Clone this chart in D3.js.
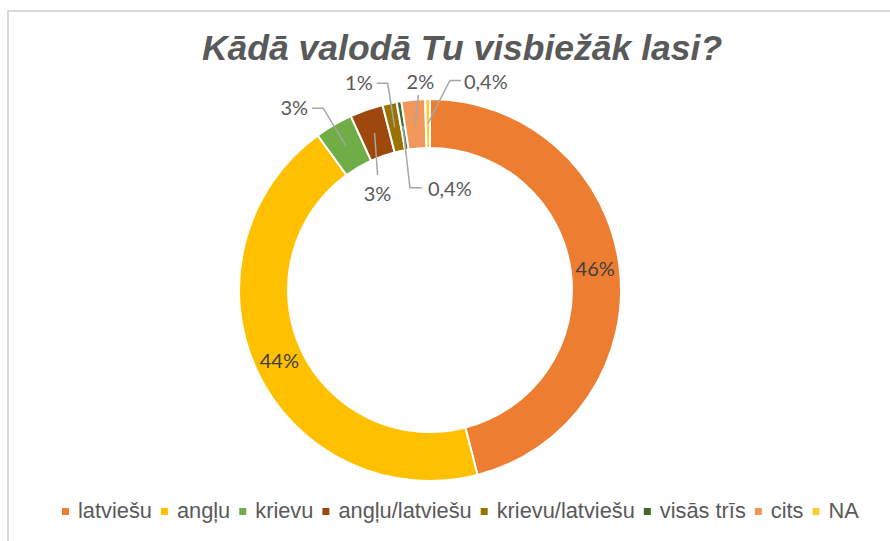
<!DOCTYPE html>
<html>
<head>
<meta charset="utf-8">
<script src="https://cdn.jsdelivr.net/npm/d3@7"></script>
<style>
  body { margin: 0; background: #fff; }
  svg { display: block; }
</style>
</head>
<body>
<div id="chart"></div>
<script>
const title = "Kādā valodā Tu visbiežāk lasi?";
const categories = ["latviešu", "angļu", "krievu", "angļu/latviešu", "krievu/latviešu", "visās trīs", "cits", "NA"];
const values = [46, 44, 3.2, 2.8, 1.2, 0.4, 2, 0.4];
const colors = ["#ED7D31", "#FFC000", "#70AD47", "#9E480E", "#997300", "#43682B", "#F1975A", "#FFCD33"];

const width = 890, height = 541;
const cx = 430, cy = 290, outerR = 191, innerR = 142;

// hand-placed labels (offsets from the slice centroid), like the dragged labels in the original
const labelLayout = [
  { inside: true },
  { inside: true },
  { pts: [[-23, -38], [-34, -38]], text: [-38, -31], anchor: "end" },
  { pts: [[3, 42]], text: [3, 68], anchor: "middle" },
  { pts: [[-7, -44], [-18, -44]], text: [-22, -37], anchor: "end" },
  { pts: [[7, 62], [19, 62]], text: [25, 70], anchor: "start" },
  { pts: [[3, -29]], text: [5, -35], anchor: "middle" },
  { pts: [[22, -43], [33, -43]], text: [36, -35], anchor: "start" },
];

const fmt = (v) => (v < 1 ? String(v).replace(".", ",") : Math.round(v)) + "%";

const svg = d3.select("#chart").append("svg")
  .attr("width", width)
  .attr("height", height);

// chart frame
svg.append("rect")
  .attr("x", 8).attr("y", 11)
  .attr("width", width + 20).attr("height", height + 20)
  .attr("fill", "#fff")
  .attr("stroke", "#d9d9d9")
  .attr("stroke-width", 2);

svg.append("text")
  .attr("x", 462).attr("y", 60)
  .attr("text-anchor", "middle")
  .attr("font-family", "Liberation Sans, Arial, sans-serif")
  .attr("font-weight", "bold")
  .attr("font-style", "italic")
  .attr("font-size", 35.5)
  .attr("fill", "#595959")
  .text(title);

const pie = d3.pie().sort(null).value((d) => d);
const arcs = pie(values);
const arc = d3.arc().innerRadius(innerR).outerRadius(outerR);
const mid = d3.arc().innerRadius((innerR + outerR) / 2).outerRadius((innerR + outerR) / 2);

const g = svg.append("g").attr("transform", `translate(${cx},${cy})`);

g.selectAll("path.slice")
  .data(arcs)
  .join("path")
  .attr("class", "slice")
  .attr("d", arc)
  .attr("fill", (d, i) => colors[i])
  .attr("stroke", "#fff")
  .attr("stroke-width", 2);

arcs.forEach((d, i) => {
  const [x, y] = mid.centroid(d);
  const L = labelLayout[i];
  if (L.inside) {
    g.append("text")
      .attr("x", x).attr("y", y)
      .attr("dy", "0.35em")
      .attr("text-anchor", "middle")
      .attr("font-family", "Lato, sans-serif")
      .attr("font-size", 20)
      .attr("fill", "#404040")
      .text(fmt(values[i]));
    return;
  }
  const pts = [[x, y]].concat(L.pts.map((p) => [x + p[0], y + p[1]]));
  g.append("path")
    .attr("d", d3.line()(pts))
    .attr("fill", "none")
    .attr("stroke", "#a6a6a6")
    .attr("stroke-width", 1.5);
  g.append("text")
    .attr("x", x + L.text[0]).attr("y", y + L.text[1])
    .attr("text-anchor", L.anchor)
    .attr("font-family", "Lato, sans-serif")
    .attr("font-size", 20)
    .attr("fill", "#595959")
    .text(fmt(values[i]));
});

// legend
const legend = svg.append("g").attr("transform", "translate(0,518)");
let lx = 62;
categories.forEach((c, i) => {
  legend.append("rect")
    .attr("x", lx).attr("y", -10)
    .attr("width", 7).attr("height", 7)
    .attr("fill", colors[i]);
  const t = legend.append("text")
    .attr("x", lx + 16).attr("y", 0)
    .attr("font-family", "Liberation Sans, Arial, sans-serif")
    .attr("font-size", 21.8)
    .attr("fill", "#595959")
    .text(c);
  lx += 16 + t.node().getComputedTextLength() + 9;
});
</script>
</body>
</html>
